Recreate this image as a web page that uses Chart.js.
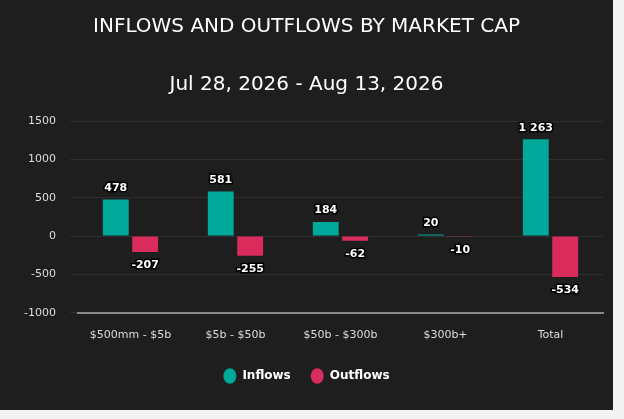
<!DOCTYPE html>
<html><head><meta charset="utf-8">
<script src="https://cdn.jsdelivr.net/npm/chart.js@4"></script>
<style>
html,body{margin:0;padding:0;background:#f3f3f3;}
#box{position:absolute;left:0;top:0;width:613px;height:410px;background:#1e1e1e;}
</style></head><body>
<div id="box"><canvas id="c" width="613" height="410"></canvas></div>
<script>
const categories = ["$500mm - $5b","$5b - $50b","$50b - $300b","$300b+","Total"];
const inflows = [478,581,184,20,1263];
const outflows = [-207,-255,-62,-10,-534];
const yTicks = [-1000,-500,0,500,1000,1500];

const labelPlugin = {
  id:'lbl',
  afterDatasetsDraw(chart){
    const ctx = chart.ctx;
    ctx.save();
    ctx.font = 'bold 11px "DejaVu Sans"';
    ctx.textAlign = 'center';
    ctx.lineWidth = 3; ctx.strokeStyle = '#000'; ctx.fillStyle = '#fff';
    chart.data.datasets.forEach((ds,i)=>{
      chart.getDatasetMeta(i).data.forEach((el,j)=>{
        const v = ds.data[j];
        const txt = v>=1000 ? String(v).replace(/(\d)(\d{3})$/,'$1 $2') : String(v);
        let y;
        if (v>=0){ ctx.textBaseline='bottom'; y = el.y-6; }
        else { ctx.textBaseline='top'; y = el.y+8; }
        ctx.strokeText(txt, el.x, y);
        ctx.fillText(txt, el.x, y);
      });
    });
    ctx.restore();
  }
};

new Chart(document.getElementById('c'),{
  type:'bar',
  data:{labels:categories,datasets:[
    {label:'Inflows',data:inflows,backgroundColor:'#00a89a',borderWidth:0},
    {label:'Outflows',data:outflows,backgroundColor:'#d92c5c',borderWidth:0}
  ]},
  options:{
    responsive:false,animation:false,
    layout:{padding:{left:10,right:10,top:0,bottom:18}},
    datasets:{bar:{categoryPercentage:0.56,barPercentage:0.88}},
    plugins:{
      title:{display:true,text:['INFLOWS AND OUTFLOWS BY MARKET CAP','','Jul 28, 2026 - Aug 13, 2026'],color:'#fff',
        font:{family:'"DejaVu Sans"',size:20,weight:'normal',lineHeight:1.45},padding:{top:12,bottom:22}},
      legend:{position:'bottom',labels:{color:'#fff',usePointStyle:true,pointStyle:'circle',boxWidth:11,boxHeight:11,pointStyleWidth:13,padding:20,
        font:{family:'"DejaVu Sans"',size:12,weight:'bold'}}},
      tooltip:{enabled:false}
    },
    scales:{
      x:{grid:{display:false},border:{color:'#888',width:2},
        ticks:{color:'#ddd',font:{family:'"DejaVu Sans"',size:11},padding:8}},
      y:{min:-1000,max:1500,afterBuildTicks(a){a.ticks=yTicks.map(v=>({value:v}));},
        grid:{color:'#2e2e2e'},border:{display:false},
        ticks:{color:'#ddd',font:{family:'"DejaVu Sans"',size:11},padding:14,callback:v=>String(v)}}
    }
  },
  plugins:[labelPlugin]
});
</script></body></html>
